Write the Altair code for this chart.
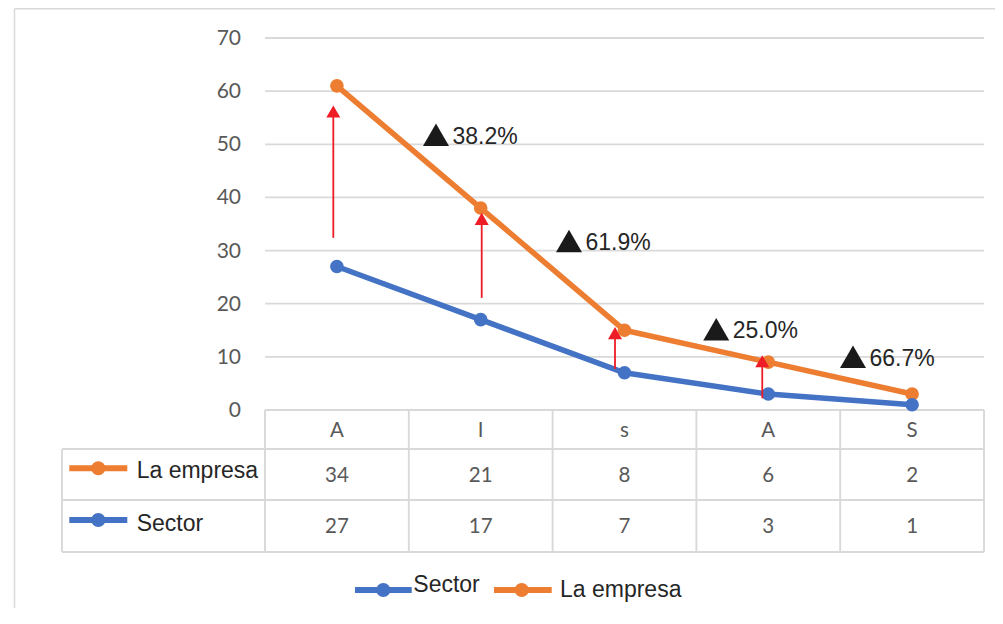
import altair as alt
import pandas as pd

# ---------------- data ----------------
categories = ["A", "I", "s", "A", "S"]
series_names = ["La empresa", "Sector"]
empresa = [34, 21, 8, 6, 2]
sector = [27, 17, 7, 3, 1]
y_ticks = [0, 10, 20, 30, 40, 50, 60, 70]

change_labels = ["38.2%", "61.9%", "25.0%", "66.7%"]
change_x = [1.189, 2.114, 3.138, 4.089]
change_y = [51.8, 31.8, 15.2, 10.0]

arrow_x = [0.475, 1.507, 2.434, 3.458]
arrow_from = [32.4, 21.1, 7.7, 2.2]
arrow_to = [57.3, 37.1, 15.6, 10.3]

# ---------------- style / layout ----------------
ORANGE = "#ED7D31"
BLUE = "#4472C4"
GRID = "#D9D9D9"
GRAY = "#595959"
DARK = "#262626"
RED = "#EE1C25"
NUM_FONT = "Lato"
TXT_FONT = "Liberation Sans"

W, H = 987, 600
PX = 143.8            # px per category
PY = 372 / 70         # px per y unit
X_ORIGIN = 257        # svg x of category boundary 0
Y_ORIGIN = 402        # svg y of value 0
X0, X1 = -X_ORIGIN / PX, (W - X_ORIGIN) / PX
Y0, Y1 = -(H - Y_ORIGIN) / PY, Y_ORIGIN / PY
X_LEFT = -203 / PX    # left edge of the table's legend column

xs = alt.Scale(domain=[X0, X1], nice=False, zero=False)
ys = alt.Scale(domain=[Y0, Y1], nice=False, zero=False)
color_scale = alt.Scale(domain=series_names, range=[ORANGE, BLUE])

n = len(categories)

# ---------------- frames ----------------
long_rows = []
for i, c in enumerate(categories):
    long_rows.append({"idx": i, "xc": i + 0.5, "cat": c, "series": "La empresa",
                      "value": empresa[i], "order": 1})
for i, c in enumerate(categories):
    long_rows.append({"idx": i, "xc": i + 0.5, "cat": c, "series": "Sector",
                      "value": sector[i], "order": 0})
long_df = pd.DataFrame(long_rows)

grid_df = pd.DataFrame({"t": y_ticks, "x0": 0, "x1": n})
vlines_df = pd.DataFrame({"b": list(range(n + 1))})
hlines_df = pd.DataFrame({"py": [441, 492, 544], "x0": X_LEFT, "x1": n})
left_df = pd.DataFrame({"xl": [X_LEFT]})

header_df = pd.DataFrame({"xc": [i + 0.5 for i in range(n)], "label": categories})
cells_df = pd.DataFrame(
    [{"xc": i + 0.5, "val": str(empresa[i]), "py": 468} for i in range(n)]
    + [{"xc": i + 0.5, "val": str(sector[i]), "py": 519} for i in range(n)]
)

tleg_df = pd.DataFrame({"series": series_names, "py": [460.3, 512.0], "ty": [463, 516]})
bleg_df = pd.DataFrame({
    "series": ["Sector", "La empresa"],
    "lx0": [347, 486], "lx1": [403.7, 543.7], "dx": [375.3, 513.7],
    "tx": [405.3, 552], "ty": [577.2, 581.7],
})

arrow_df = pd.DataFrame({"ax": arrow_x, "a0": arrow_from, "a1": arrow_to})
chg_df = pd.DataFrame({"lx": change_x, "ly": change_y, "txt": change_labels})
dummy = pd.DataFrame({"d": [0]})

X = lambda f: alt.X(f, scale=xs, axis=None)
Y = lambda f: alt.Y(f, scale=ys, axis=None)

# ---------------- layers ----------------
border_left = alt.Chart(dummy).mark_rule(color=GRID, strokeWidth=1.5).encode(
    x=alt.value(6.5), y=alt.value(0.8), y2=alt.value(H))
border_top = alt.Chart(dummy).mark_rule(color=GRID, strokeWidth=1.5).encode(
    x=alt.value(6.5), x2=alt.value(W), y=alt.value(0.8))

grid = alt.Chart(grid_df).mark_rule(color=GRID, strokeWidth=1.8).encode(
    x=X("x0:Q"), x2="x1:Q", y=Y("t:Q"))
ylabels = alt.Chart(grid_df).mark_text(
    align="right", baseline="middle", font=NUM_FONT, fontSize=21, color=GRAY, dy=1
).encode(x=alt.value(233), y=Y("t:Q"), text="t:Q")

vlines = alt.Chart(vlines_df).mark_rule(color=GRID, strokeWidth=1.9).encode(
    x=X("b:Q"), y=alt.value(Y_ORIGIN), y2=alt.value(544))
vleft = alt.Chart(left_df).mark_rule(color=GRID, strokeWidth=1.9).encode(
    x=X("xl:Q"), y=alt.value(441), y2=alt.value(544))
hlines = alt.Chart(hlines_df).mark_rule(color=GRID, strokeWidth=1.9).encode(
    x=X("x0:Q"), x2="x1:Q", y=alt.Y("py:Q", scale=None))

header = alt.Chart(header_df).mark_text(
    baseline="middle", font=NUM_FONT, fontSize=20.5, color=GRAY
).encode(x=X("xc:Q"), y=alt.value(422.5), text="label:N")
cells = alt.Chart(cells_df).mark_text(
    baseline="middle", font=NUM_FONT, fontSize=20.5, color=GRAY
).encode(x=X("xc:Q"), y=alt.Y("py:Q", scale=None), text="val:N")

tleg_line = alt.Chart(tleg_df).mark_rule(strokeWidth=6).encode(
    x=alt.value(61.3), x2=alt.value(119.3), y=alt.Y("py:Q", scale=None),
    color=alt.Color("series:N", scale=color_scale, legend=None))
tleg_dot = alt.Chart(tleg_df).mark_point(filled=True, opacity=1, size=200).encode(
    x=alt.value(90.3), y=alt.Y("py:Q", scale=None),
    color=alt.Color("series:N", scale=color_scale, legend=None))
tleg_txt = alt.Chart(tleg_df).mark_text(
    align="left", baseline="middle", font=TXT_FONT, fontSize=23, color=DARK
).encode(x=alt.value(128.7), y=alt.Y("ty:Q", scale=None), text="series:N")

bleg_line = alt.Chart(bleg_df).mark_rule(strokeWidth=6).encode(
    x=alt.X("lx0:Q", scale=None), x2="lx1:Q", y=alt.value(582),
    color=alt.Color("series:N", scale=color_scale, legend=None))
bleg_dot = alt.Chart(bleg_df).mark_point(filled=True, opacity=1, size=200).encode(
    x=alt.X("dx:Q", scale=None), y=alt.value(582),
    color=alt.Color("series:N", scale=color_scale, legend=None))
bleg_txt = alt.Chart(bleg_df).mark_text(
    align="left", baseline="middle", font=TXT_FONT, fontSize=23, color=DARK
).encode(x=alt.X("tx:Q", scale=None), y=alt.Y("ty:Q", scale=None), text="series:N")

stacked = alt.Chart(long_df).transform_stack(
    stack="value", groupby=["idx"], as_=["y0", "y1"],
    sort=[alt.SortField("order", order="ascending")])


def series_layers(name, color):
    s = stacked.transform_filter(alt.datum.series == name)
    line = s.mark_line(color=color, strokeWidth=5.5, strokeCap="round", strokeJoin="round").encode(
        x=X("xc:Q"), y=Y("y1:Q"))
    pts = s.mark_point(color=color, filled=True, opacity=1, size=185).encode(
        x=X("xc:Q"), y=Y("y1:Q"))
    return line, pts


e_line, e_pts = series_layers("La empresa", ORANGE)
s_line, s_pts = series_layers("Sector", BLUE)

arrows = alt.Chart(arrow_df).mark_rule(color=RED, strokeWidth=1.8, y2Offset=8).encode(
    x=X("ax:Q"), y=Y("a0:Q"), y2="a1:Q")
heads = alt.Chart(arrow_df).mark_point(
    shape="triangle-up", filled=True, opacity=1, size=196, color=RED, yOffset=6
).encode(x=X("ax:Q"), y=Y("a1:Q"))

chg_tri = alt.Chart(chg_df).mark_point(
    shape="triangle-up", filled=True, opacity=1, size=676, color="#1A1A1A"
).encode(x=X("lx:Q"), y=Y("ly:Q"))
chg_txt = alt.Chart(chg_df).mark_text(
    align="left", baseline="middle", dx=16.5, dy=2, font=TXT_FONT, fontSize=23, color=DARK
).encode(x=X("lx:Q"), y=Y("ly:Q"), text="txt:N")

chart = alt.layer(
    border_left, border_top, grid, ylabels, vlines, vleft, hlines, header, cells,
    tleg_line, tleg_dot, tleg_txt, bleg_line, bleg_dot, bleg_txt,
    e_line, s_line, e_pts, s_pts, arrows, heads, chg_tri, chg_txt,
).properties(
    width=W, height=H, padding=0,
    autosize=alt.AutoSizeParams(type="none"),
    background="white",
).configure_view(stroke=None)

chart.save("out.html", embed_options={"renderer": "svg", "actions": False})
